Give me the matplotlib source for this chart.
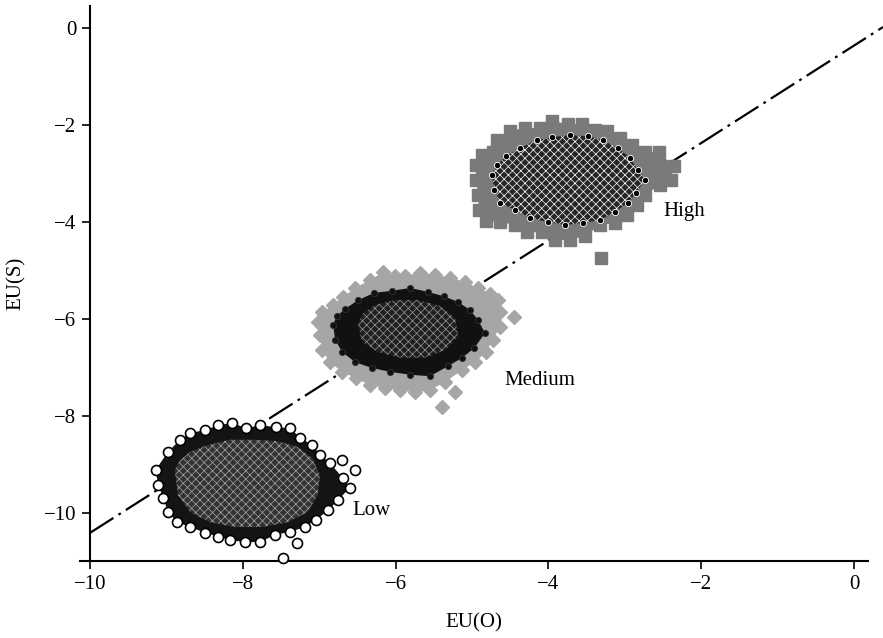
import matplotlib
matplotlib.use("Agg")
import matplotlib.pyplot as plt

plt.rcParams['font.family'] = ['Liberation Serif', 'DejaVu Serif']
plt.rcParams['hatch.linewidth'] = 0.5
plt.rcParams['lines.scale_dashes'] = False

# ---- reference line EU(S) vs EU(O) ----
line_x = [-10.0, 0.38]
line_y = [-10.41, 0.02]

# ---- High group (grey squares, dark core) ----
high_edge_x = [-4.95, -4.95, -4.92, -4.91, -4.82, -4.63, -4.44, -4.28, -4.08, -3.91, -3.72, -3.52,
               -3.32, -3.13, -2.97, -2.84, -2.74, -2.54, -2.40, -2.36, -2.55, -2.74, -2.91, -3.06,
               -3.23, -3.39, -3.56, -3.74, -3.95, -4.11, -4.31, -4.50, -4.67, -4.73, -4.87]
high_edge_y = [-2.82, -3.13, -3.44, -3.75, -3.98, -4.00, -4.06, -4.21, -4.21, -4.37, -4.37, -4.29,
               -4.06, -4.02, -3.86, -3.65, -3.44, -3.24, -3.13, -2.85, -2.56, -2.56, -2.41, -2.27,
               -2.12, -2.10, -1.98, -1.98, -1.92, -2.06, -2.06, -2.12, -2.31, -2.56, -2.62]
high_extra_x = [-3.31]
high_extra_y = [-4.74]
high_core_x = [-4.74, -4.71, -4.63, -4.44, -4.24, -4.01, -3.78, -3.55, -3.32, -3.13, -2.96, -2.85,
               -2.74, -2.83, -2.93, -3.09, -3.29, -3.48, -3.72, -3.95, -4.15, -4.37, -4.55, -4.67]
high_core_y = [-3.03, -3.34, -3.61, -3.75, -3.92, -4.00, -4.06, -4.02, -3.96, -3.79, -3.61, -3.40,
               -3.13, -2.93, -2.68, -2.47, -2.31, -2.23, -2.21, -2.25, -2.31, -2.47, -2.64, -2.82]

# ---- Medium group (light grey diamonds, black core) ----
medium_edge_x = [-7.02, -6.99, -6.96, -6.86, -6.70, -6.52, -6.34, -6.14, -5.94, -5.75, -5.55, -5.35,
                 -5.13, -4.96, -4.82, -4.73, -4.63, -4.63, -4.66, -4.76, -4.92, -5.09, -5.29, -5.48,
                 -5.68, -5.88, -6.01, -6.16, -6.34, -6.53, -6.69, -6.82, -6.96]
medium_edge_y = [-6.06, -6.33, -6.64, -6.89, -7.09, -7.22, -7.36, -7.42, -7.46, -7.51, -7.46, -7.30,
                 -7.05, -6.89, -6.68, -6.43, -6.16, -5.86, -5.61, -5.48, -5.36, -5.24, -5.15, -5.09,
                 -5.05, -5.11, -5.11, -5.03, -5.20, -5.36, -5.55, -5.71, -5.86]
medium_extra_x = [-5.22, -5.39, -4.45]
medium_extra_y = [-7.51, -7.81, -5.96]
medium_core_x = [-6.82, -6.79, -6.70, -6.53, -6.31, -6.07, -5.81, -5.55, -5.31, -5.13, -4.97, -4.83,
                 -4.92, -5.03, -5.18, -5.37, -5.58, -5.81, -6.05, -6.28, -6.49, -6.66, -6.77]
medium_core_y = [-6.12, -6.43, -6.68, -6.89, -7.01, -7.09, -7.15, -7.18, -6.97, -6.80, -6.60, -6.29,
                 -6.02, -5.81, -5.65, -5.53, -5.44, -5.36, -5.42, -5.46, -5.61, -5.79, -5.94]
medium_inner_x = [-6.49, -6.44, -6.23, -5.94, -5.62, -5.35, -5.18, -5.22, -5.42, -5.71, -6.01, -6.27, -6.44]
medium_inner_y = [-6.12, -6.47, -6.68, -6.80, -6.80, -6.64, -6.35, -5.98, -5.73, -5.61, -5.61, -5.71, -5.90]

# ---- Low group (open circles) ----
low_edge_x = [-9.14, -8.98, -8.82, -8.69, -8.49, -8.32, -8.14, -7.96, -7.77, -7.57, -7.38, -7.25,
              -7.09, -6.99, -6.86, -6.69, -6.60, -6.75, -6.88, -7.04, -7.19, -7.38, -7.58, -7.77,
              -7.97, -8.17, -8.32, -8.49, -8.69, -8.86, -8.98, -9.04, -9.11]
low_edge_y = [-9.11, -8.74, -8.49, -8.35, -8.29, -8.19, -8.14, -8.25, -8.19, -8.23, -8.25, -8.45,
              -8.60, -8.80, -8.97, -9.28, -9.48, -9.73, -9.94, -10.14, -10.29, -10.39, -10.45, -10.60,
              -10.60, -10.56, -10.49, -10.41, -10.29, -10.19, -9.98, -9.69, -9.42]
low_extra_x = [-6.70, -6.53, -7.29, -7.47]
low_extra_y = [-8.91, -9.11, -10.62, -10.93]
low_inner_x = [-8.89, -8.85, -8.69, -8.43, -8.10, -7.75, -7.41, -7.15, -7.02, -6.99, -7.09, -7.28,
               -7.54, -7.84, -8.17, -8.46, -8.69, -8.82]
low_inner_y = [-9.11, -9.63, -9.98, -10.19, -10.29, -10.29, -10.19, -9.98, -9.63, -9.22, -8.87, -8.64,
               -8.52, -8.49, -8.49, -8.60, -8.74, -8.91]

labels = ["High", "Medium", "Low"]
label_x = [-2.50, -4.57, -6.57]
label_y = [-3.79, -7.26, -9.94]

x_ticks = [-10, -8, -6, -4, -2, 0]
y_ticks = [0, -2, -4, -6, -8, -10]

FS = 15

fig = plt.figure(figsize=(8.83, 6.38), dpi=100)
ax = fig.add_axes([80 / 883, 77 / 638, 788 / 883, 555 / 638])
ax.set_xlim(-10.131, 0.183)
ax.set_ylim(-10.99, 0.454)

# dash-dot reference line (under the clouds)
ln, = ax.plot(line_x, line_y, color='black', lw=1.6, zorder=1, clip_on=False)
ln.set_dashes([20, 4.3, 2, 4.3])

# High
HC = '#7a7a7a'
ax.fill(high_edge_x, high_edge_y, color=HC, lw=0, zorder=2)
ax.plot(high_edge_x + high_extra_x, high_edge_y + high_extra_y, 's', ms=8.3,
        color=HC, mec=HC, zorder=3)
ax.fill(high_core_x, high_core_y, facecolor='#262626', edgecolor='white', hatch='xxxx', lw=0, zorder=4)
ax.plot(high_core_x, high_core_y, 'o', ms=4.5, color='black', mec='white', mew=0.6, zorder=5)

# Medium
MC = '#a6a6a6'
ax.fill(medium_edge_x, medium_edge_y, color=MC, lw=0, zorder=2)
ax.plot(medium_edge_x + medium_extra_x, medium_edge_y + medium_extra_y, 'D', ms=7.6,
        color=MC, mec=MC, zorder=3)
ax.fill(medium_core_x, medium_core_y, facecolor='#111111', lw=0, zorder=4)
ax.plot(medium_core_x, medium_core_y, 'o', ms=4.5, color='#111111', mec='#333333', mew=0.6, zorder=5)
ax.fill(medium_inner_x, medium_inner_y, facecolor='#202020', edgecolor='#9a9a9a', hatch='xxxx',
        lw=0, zorder=6)

# Low
ax.fill(low_edge_x, low_edge_y, facecolor='#141414', lw=0, zorder=2)
ax.plot(low_edge_x + low_extra_x, low_edge_y + low_extra_y, 'o', ms=7.2, mfc='white',
        mec='black', mew=1.2, zorder=3, clip_on=False)
ax.fill(low_inner_x, low_inner_y, facecolor='#333333', edgecolor='#a8a8a8', hatch='xxxx',
        lw=0, zorder=4)

for t, x, y in zip(labels, label_x, label_y):
    ax.text(x, y, t, fontsize=FS, ha='left', va='center', zorder=10)

# axes styling
for s in ['top', 'right']:
    ax.spines[s].set_visible(False)
ax.spines['left'].set_position(('data', -10))
for s in ['left', 'bottom']:
    ax.spines[s].set_linewidth(1.5)
ax.set_xticks(x_ticks)
ax.set_yticks(y_ticks)
ax.set_xticklabels([str(v).replace('-', '\u2212') for v in x_ticks])
ax.set_yticklabels([str(v).replace('-', '\u2212') for v in y_ticks])
ax.tick_params(direction='out', length=5.8, width=1.2, labelsize=FS, pad=4)
ax.set_xlabel('EU(O)', fontsize=FS, labelpad=14)
ax.set_ylabel('EU(S)', fontsize=FS, labelpad=13)

fig.savefig('out.png', dpi=100)
